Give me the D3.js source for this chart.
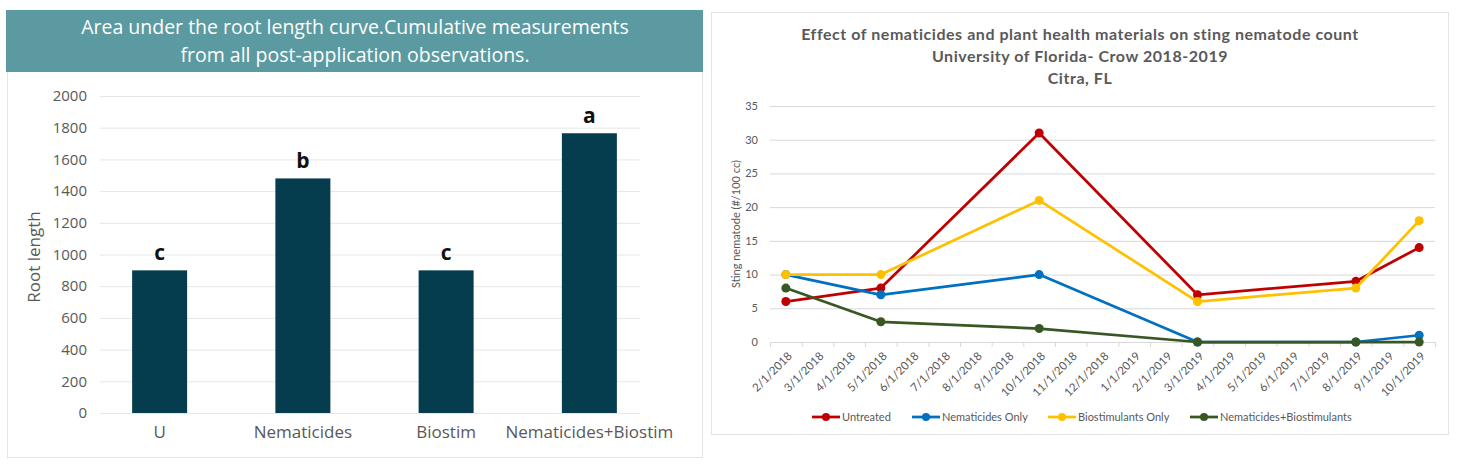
<!DOCTYPE html>
<html>
<head>
<meta charset="utf-8">
<script src="https://cdn.jsdelivr.net/npm/d3@7"></script>
<style>
  body { margin: 0; background: #fff; }
  svg { display: block; }
</style>
</head>
<body>
<svg id="chart" width="1466" height="467"></svg>
<script>
// Left chart data: area under root length curve
const barCategories = ['U', 'Nematicides', 'Biostim', 'Nematicides+Biostim'];
const barValues = [900, 1480, 900, 1765];
const barLetters = ['c', 'b', 'c', 'a'];
const barTicks = [0, 200, 400, 600, 800, 1000, 1200, 1400, 1600, 1800, 2000];

// Right chart data: sting nematode counts
const months = ['2/1/2018', '3/1/2018', '4/1/2018', '5/1/2018', '6/1/2018', '7/1/2018',
  '8/1/2018', '9/1/2018', '10/1/2018', '11/1/2018', '12/1/2018', '1/1/2019',
  '2/1/2019', '3/1/2019', '4/1/2019', '5/1/2019', '6/1/2019', '7/1/2019',
  '8/1/2019', '9/1/2019', '10/1/2019'];
const sampleDates = ['2/1/2018', '5/1/2018', '10/1/2018', '3/1/2019', '8/1/2019', '10/1/2019'];
const untreated = [6, 8, 31, 7, 9, 14];
const nematicidesOnly = [10, 7, 10, 0, 0, 1];
const biostimulantsOnly = [10, 10, 21, 6, 8, 18];
const nemaBio = [8, 3, 2, 0, 0, 0];
const lineTicks = [0, 5, 10, 15, 20, 25, 30, 35];
const seriesNames = ['Untreated', 'Nematicides Only', 'Biostimulants Only', 'Nematicides+Biostimulants'];
const seriesColors = ['#c00000', '#0070c0', '#ffc000', '#385723'];

const svg = d3.select('#chart');

// ---------- Left panel ----------
const left = svg.append('g');
left.append('rect')
  .attr('x', 7.5).attr('y', 10.5).attr('width', 695).attr('height', 447)
  .attr('fill', '#fff').attr('stroke', '#e3e3e3');
left.append('rect')
  .attr('x', 6).attr('y', 10).attr('width', 697).attr('height', 62)
  .attr('fill', '#5b9aa0');
const titleLines = ['Area under the root length curve.Cumulative measurements',
  'from all post-application observations.'];
left.selectAll('.ttl')
  .data(titleLines)
  .enter().append('text')
  .attr('x', 355)
  .attr('y', (d, i) => 34 + i * 28)
  .attr('text-anchor', 'middle')
  .style('font-family', 'Open Sans, sans-serif')
  .style('font-size', '19.5px')
  .style('fill', '#fff')
  .text(d => d);

const yBar = d3.scaleLinear().domain([0, 2000]).range([413, 96]);
const xBar = d3.scaleBand().domain(barCategories).range([88, 661]);
const barW = 55;

left.selectAll('.grid')
  .data(barTicks)
  .enter().append('line')
  .attr('x1', 100).attr('x2', 640)
  .attr('y1', d => yBar(d) + 0.5).attr('y2', d => yBar(d) + 0.5)
  .attr('stroke', '#e6e6e6');

left.selectAll('.ytick')
  .data(barTicks)
  .enter().append('text')
  .attr('x', 87)
  .attr('y', d => yBar(d))
  .attr('dy', '0.35em')
  .attr('text-anchor', 'end')
  .style('font-family', 'Open Sans, sans-serif')
  .style('font-size', '15px')
  .style('fill', '#595959')
  .text(d => d);

left.append('text')
  .attr('transform', 'translate(40,257) rotate(-90)')
  .attr('text-anchor', 'middle')
  .style('font-family', 'Open Sans, sans-serif')
  .style('font-size', '17px')
  .style('fill', '#595959')
  .text('Root length');

left.selectAll('.bar')
  .data(barValues)
  .enter().append('rect')
  .attr('x', (d, i) => xBar(barCategories[i]) + xBar.bandwidth() / 2 - barW / 2)
  .attr('y', d => yBar(d))
  .attr('width', barW)
  .attr('height', d => yBar(0) - yBar(d))
  .attr('fill', '#053d4e');

left.selectAll('.letter')
  .data(barValues)
  .enter().append('text')
  .attr('x', (d, i) => xBar(barCategories[i]) + xBar.bandwidth() / 2)
  .attr('y', d => yBar(d) - 10)
  .attr('text-anchor', 'middle')
  .style('font-family', 'Open Sans, sans-serif')
  .style('font-size', '21px')
  .style('font-weight', '700')
  .style('fill', '#111')
  .text((d, i) => barLetters[i]);

left.selectAll('.xlab')
  .data(barCategories)
  .enter().append('text')
  .attr('x', d => xBar(d) + xBar.bandwidth() / 2)
  .attr('y', 438)
  .attr('text-anchor', 'middle')
  .style('font-family', 'Open Sans, sans-serif')
  .style('font-size', '17px')
  .style('fill', '#595959')
  .text(d => d);

// ---------- Right panel ----------
const right = svg.append('g');
right.append('rect')
  .attr('x', 711.5).attr('y', 12.5).attr('width', 737).attr('height', 422)
  .attr('fill', '#fff').attr('stroke', '#e3e3e3');

const rTitle = ['Effect of nematicides and plant health materials on sting nematode count',
  'University of Florida- Crow 2018-2019', 'Citra, FL'];
right.selectAll('.rttl')
  .data(rTitle)
  .enter().append('text')
  .attr('x', 1080)
  .attr('y', (d, i) => 40 + i * 22)
  .attr('text-anchor', 'middle')
  .style('font-family', 'Lato, sans-serif')
  .style('font-size', '16px')
  .style('font-weight', '700')
  .style('letter-spacing', '0.55px')
  .style('fill', '#595959')
  .text(d => d);

const yLine = d3.scaleLinear().domain([0, 35]).range([342, 106]);
const xLine = d3.scaleBand().domain(months).range([770, 1435]);
const xc = m => xLine(m) + xLine.bandwidth() / 2;

right.selectAll('.rgrid')
  .data(lineTicks)
  .enter().append('line')
  .attr('x1', 770).attr('x2', 1435)
  .attr('y1', d => yLine(d) + 0.5).attr('y2', d => yLine(d) + 0.5)
  .attr('stroke', '#d9d9d9');

right.selectAll('.rtickmark')
  .data(d3.range(months.length + 1))
  .enter().append('line')
  .attr('x1', i => 770 + i * xLine.step() + 0.5)
  .attr('x2', i => 770 + i * xLine.step() + 0.5)
  .attr('y1', yLine(0)).attr('y2', yLine(0) + 5)
  .attr('stroke', '#d9d9d9');

right.selectAll('.rytick')
  .data(lineTicks)
  .enter().append('text')
  .attr('x', 758)
  .attr('y', d => yLine(d))
  .attr('dy', '0.35em')
  .attr('text-anchor', 'end')
  .style('font-family', 'Lato, sans-serif')
  .style('font-size', '11px')
  .style('fill', '#595959')
  .text(d => d);

right.selectAll('.rxlab')
  .data(months)
  .enter().append('text')
  .attr('transform', d => `translate(${xc(d) + 4},${yLine(0) + 12}) rotate(-45)`)
  .attr('text-anchor', 'end')
  .attr('dy', '0.35em')
  .style('font-family', 'Lato, sans-serif')
  .style('font-size', '11.5px')
  .style('fill', '#595959')
  .text(d => d);

right.append('text')
  .attr('transform', 'translate(740,224) rotate(-90)')
  .attr('text-anchor', 'middle')
  .style('font-family', 'Lato, sans-serif')
  .style('font-size', '11px')
  .style('fill', '#595959')
  .text('Sting nematode (#/100 cc)');

const allSeries = [untreated, nematicidesOnly, biostimulantsOnly, nemaBio];
const line = d3.line()
  .x((d, i) => xc(sampleDates[i]))
  .y(d => yLine(d));

allSeries.forEach((vals, s) => {
  const g = right.append('g');
  g.append('path')
    .datum(vals)
    .attr('d', line)
    .attr('fill', 'none')
    .attr('stroke', seriesColors[s])
    .attr('stroke-width', 2.75)
    .attr('stroke-linejoin', 'round');
  g.selectAll('circle')
    .data(vals)
    .enter().append('circle')
    .attr('cx', (d, i) => xc(sampleDates[i]))
    .attr('cy', d => yLine(d))
    .attr('r', 4.5)
    .attr('fill', seriesColors[s]);
});

// Legend
const legendX = [812, 912, 1048, 1190];
const legend = right.selectAll('.leg')
  .data(seriesNames)
  .enter().append('g')
  .attr('transform', (d, i) => `translate(${legendX[i]},417)`);
legend.append('line')
  .attr('x1', 0).attr('x2', 28)
  .attr('stroke', (d, i) => seriesColors[i])
  .attr('stroke-width', 2.75);
legend.append('circle')
  .attr('cx', 14).attr('r', 4)
  .attr('fill', (d, i) => seriesColors[i]);
legend.append('text')
  .attr('x', 30)
  .attr('dy', '0.35em')
  .style('font-family', 'Lato, sans-serif')
  .style('font-size', '11px')
  .style('fill', '#595959')
  .text(d => d);
</script>
</body>
</html>
